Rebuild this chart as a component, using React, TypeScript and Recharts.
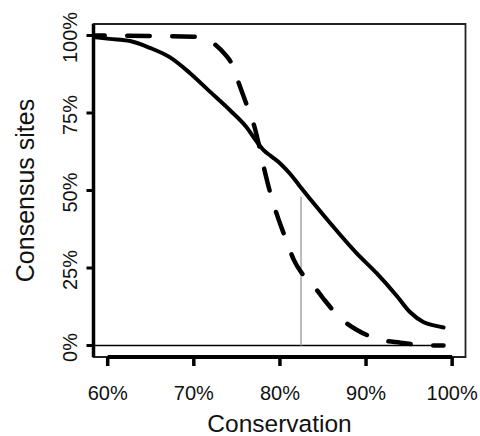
import React from 'react';
import { LineChart, Line, XAxis, YAxis, ReferenceArea, ReferenceLine } from 'recharts';

// ---- data ----
const xTicks = [60, 70, 80, 90, 100];
const xTickLabels = ['60%', '70%', '80%', '90%', '100%'];
const yTicks = [0, 25, 50, 75, 100];
const yTickLabels = ['0%', '25%', '50%', '75%', '100%'];

const solidX = [58.35, 60.2, 62.6, 64.9, 67.2, 69.5, 71.9, 74.2, 76.1, 77.3, 78.1, 79.0, 80.0, 81.2, 82.2, 83.7, 86.6, 88.9, 91.2, 93.6, 95.1, 96.7, 98.0, 99.0];
const solidY = [99.5, 98.9, 98.2, 96.0, 93.0, 88.0, 81.8, 75.9, 70.5, 65.8, 63.0, 61.0, 58.8, 55.3, 51.8, 46.6, 37.0, 29.8, 23.4, 15.9, 10.8, 7.5, 6.4, 5.8];

const dashX = [58.35, 70.0, 71.5, 72.6, 73.6, 74.4, 75.3, 76.3, 77.1, 77.7, 78.3, 79.0, 79.8, 80.8, 81.6, 82.5, 83.5, 85.0, 87.0, 88.9, 91.6, 94.0, 96.7, 99.0];
const dashY = [100, 99.6, 98.6, 96.8, 94.0, 90.9, 84.0, 76.4, 70.0, 63.0, 55.5, 48.0, 41.0, 33.5, 27.7, 23.5, 20.7, 15.3, 8.9, 5.1, 1.9, 0.9, 0.1, 0];

const zeroLineX = [58.35, 99.0];
const zeroLineY = [0, 0];
const markerX = [82.45, 82.45];
const markerY = [0, 48];

const xDomain = [58.35, 101.55];
const yDomain = [-3.7, 103.7];

const toPoints = (xs: number[], ys: number[]) => xs.map((x, i) => ({ x, y: ys[i] }));
const solidData = toPoints(solidX, solidY);
const dashData = toPoints(dashX, dashY);
const zeroData = toPoints(zeroLineX, zeroLineY);
const markerData = toPoints(markerX, markerY);

// ---- layout ----
const W = 480;
const H = 436;
const FONT = '"Liberation Sans", Arial, Helvetica, sans-serif';
const TEXT = '#111';

const XTick = (props: any) => {
  const { x, payload } = props;
  const i = xTicks.indexOf(payload.value);
  return (
    <text x={x} y={400} textAnchor="middle" fontFamily={FONT} fontSize={20} fill={TEXT}>
      {i >= 0 ? xTickLabels[i] : ''}
    </text>
  );
};

const YTick = (props: any) => {
  const { y, payload } = props;
  const i = yTicks.indexOf(payload.value);
  const bx = 77;
  const cy = y + 2;
  return (
    <text x={bx} y={cy} transform={`rotate(-90, ${bx}, ${cy})`} textAnchor="middle" fontFamily={FONT} fontSize={20} fill={TEXT}>
      {i >= 0 ? yTickLabels[i] : ''}
    </text>
  );
};

const XTitle = (props: any) => {
  const vb = props.viewBox || { x: 93.5, width: 372 };
  return (
    <text x={vb.x + vb.width / 2} y={432} textAnchor="middle" fontFamily={FONT} fontSize={24.5} fill={TEXT}>
      Conservation
    </text>
  );
};

const YTitle = (props: any) => {
  const vb = props.viewBox || { y: 24, height: 333 };
  const cx = 33.5;
  const cy = vb.y + vb.height / 2;
  return (
    <text x={cx} y={cy} transform={`rotate(-90, ${cx}, ${cy})`} textAnchor="middle" fontFamily={FONT} fontSize={25} fill={TEXT}>
      Consensus sites
    </text>
  );
};

export default function App() {
  return (
    <div style={{ position: 'absolute', left: 0, top: 0, width: W, height: H, background: '#fff' }}>
      <LineChart width={W} height={H} margin={{ top: 24, right: 14.5, bottom: 0, left: 0 }}>
        <XAxis
          type="number"
          dataKey="x"
          domain={xDomain}
          ticks={xTicks}
          allowDataOverflow
          height={79}
          axisLine={false}
          tickSize={9}
          tickLine={{ stroke: '#000', strokeWidth: 3.5 }}
          tick={<XTick />}
          label={<XTitle />}
        />
        <YAxis
          type="number"
          dataKey="y"
          domain={yDomain}
          ticks={yTicks}
          allowDataOverflow
          width={93.5}
          axisLine={{ stroke: '#000', strokeWidth: 3.5 }}
          tickSize={7}
          tickLine={{ stroke: '#000', strokeWidth: 3 }}
          tick={<YTick />}
          label={<YTitle />}
        />
        <ReferenceArea
          x1={xDomain[0]}
          x2={xDomain[1]}
          y1={yDomain[0]}
          y2={yDomain[1]}
          fill="none"
          fillOpacity={0}
          stroke="#222"
          strokeWidth={1.8}
          ifOverflow="visible"
        />
        <ReferenceLine
          segment={[{ x: xTicks[0], y: yDomain[0] }, { x: xTicks[xTicks.length - 1], y: yDomain[0] }]}
          stroke="#000"
          strokeWidth={4}
          ifOverflow="visible"
        />
        <Line data={zeroData} dataKey="y" type="linear" stroke="#000" strokeWidth={1.6} dot={false} activeDot={false} isAnimationActive={false} />
        <Line data={markerData} dataKey="y" type="linear" stroke="#aaaaaa" strokeWidth={1.6} dot={false} activeDot={false} isAnimationActive={false} />
        <Line
          data={dashData}
          dataKey="y"
          type="monotone"
          stroke="#000"
          strokeWidth={4.5}
          strokeDasharray="22.5 22.5"
          strokeDashoffset={11.25}
          strokeLinecap="round"
          strokeLinejoin="round"
          dot={false}
          activeDot={false}
          isAnimationActive={false}
        />
        <Line
          data={solidData}
          dataKey="y"
          type="monotone"
          stroke="#000"
          strokeWidth={4}
          strokeLinecap="round"
          strokeLinejoin="round"
          dot={false}
          activeDot={false}
          isAnimationActive={false}
        />
      </LineChart>
    </div>
  );
}
